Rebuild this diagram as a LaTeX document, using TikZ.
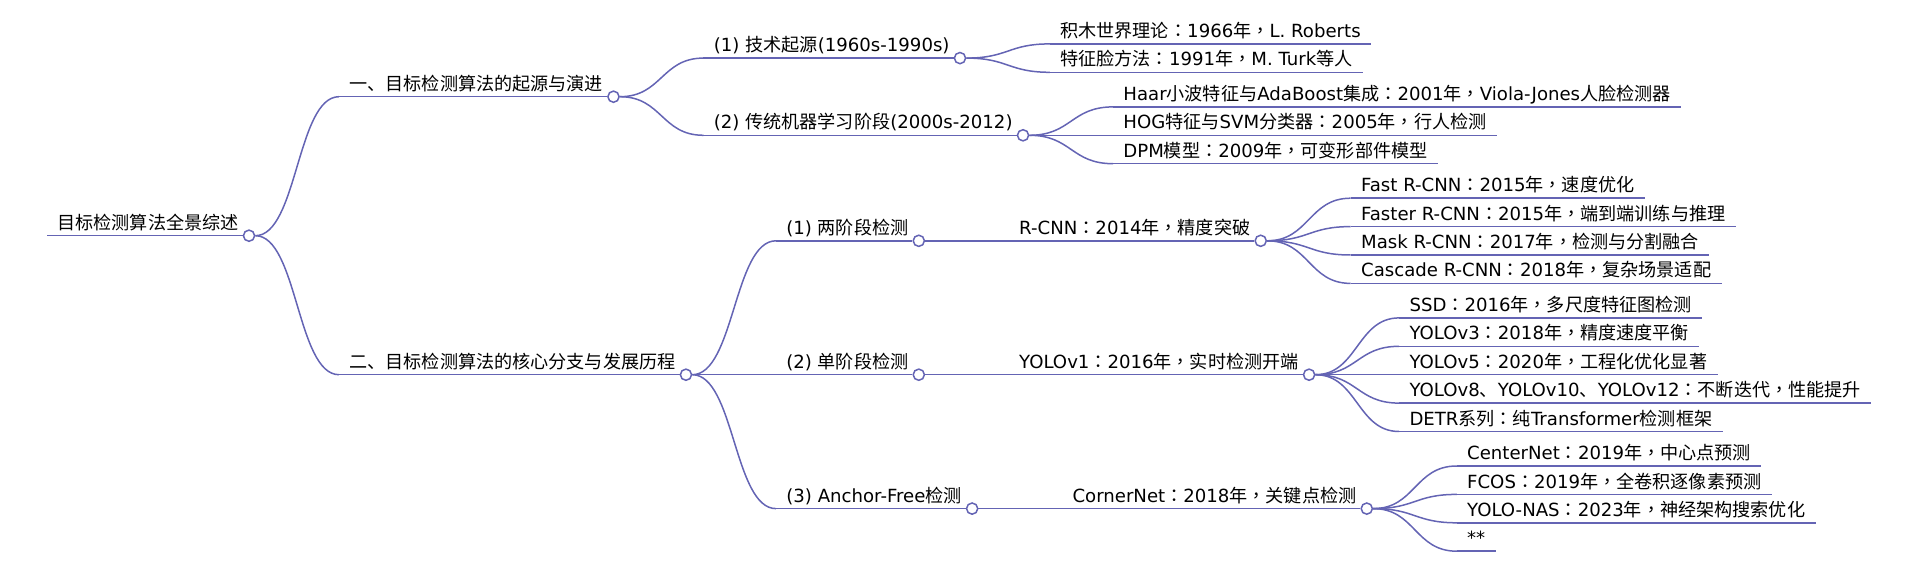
\documentclass[tikz,border=0pt]{standalone}
\usepackage{fontspec}
\setmainfont{DejaVu Sans}
\newfontfamily\latinfont{DejaVu Sans}
\newfontfamily\cjkfont{Noto Sans CJK SC}
\newfontfamily\punctfont{Noto Sans CJK TC}
\usetikzlibrary{positioning}
% han characters and full-width punctuation switch to the CJK fonts
\XeTeXinterchartokenstate=1
\newXeTeXintercharclass\hanclass
\newXeTeXintercharclass\punctclass
\newcount\hanchar
\hanchar="4E00
\loop
  \XeTeXcharclass\hanchar=\hanclass
  \ifnum\hanchar<"9FFF \advance\hanchar by 1
\repeat
\XeTeXcharclass"3001=\hanclass
\XeTeXcharclass"FF0C=\punctclass
\XeTeXcharclass"FF1A=\punctclass
\XeTeXinterchartoks 0 \hanclass={\cjkfont}
\XeTeXinterchartoks 4095 \hanclass={\cjkfont}
\XeTeXinterchartoks \hanclass 0={\latinfont}
\XeTeXinterchartoks \hanclass 4095={\latinfont}
\XeTeXinterchartoks 0 \punctclass={\punctfont}
\XeTeXinterchartoks 4095 \punctclass={\punctfont}
\XeTeXinterchartoks \hanclass \punctclass={\punctfont}
\XeTeXinterchartoks \punctclass 0={\latinfont}
\XeTeXinterchartoks \punctclass 4095={\latinfont}
\XeTeXinterchartoks \punctclass \hanclass={\cjkfont}
\definecolor{mmline}{RGB}{100,100,180}

\begin{document}
\begin{tikzpicture}[x=1pt, y=1pt,
  topic/.style={anchor=south west, inner xsep=5pt, inner ysep=3pt,
    text height=7pt, text depth=0pt, font=\fontsize{9.06}{11}\selectfont},
  dot/.style={circle, draw=mmline, fill=white, line width=0.75pt,
    minimum size=5.6pt, inner sep=0pt},
  link/.style={draw=mmline, line width=0.75pt}]
  \useasboundingbox (0,0) rectangle (960,-286);
  % root
  \node[topic] (root) at (23.5,-117.85) {目标检测算法全景综述};
  \node[dot] (rootc) at (root.south east) {};
  % main parts
  \node[topic, above right=69.5pt and 45pt of rootc.center] (orig) {一、目标检测算法的起源与演进};
  \node[dot] (origc) at (orig.south east) {};
  \node[topic, above right=-69.5pt and 45pt of rootc.center] (core) {二、目标检测算法的核心分支与发展历程};
  \node[dot] (corec) at (core.south east) {};
  % stages
  \node[topic, above right=19.3pt and 45pt of origc.center] (tech) {(1) 技术起源(1960s-1990s)};
  \node[dot] (techc) at (tech.south east) {};
  \node[topic, above right=-19.3pt and 45pt of origc.center] (trad) {(2) 传统机器学习阶段(2000s-2012)};
  \node[dot] (tradc) at (trad.south east) {};
  \node[topic, above right=66.95pt and 45pt of corec.center] (two) {(1) 两阶段检测};
  \node[dot] (twoc) at (two.south east) {};
  \node[topic, above right=0pt and 45pt of corec.center] (one) {(2) 单阶段检测};
  \node[dot] (onec) at (one.south east) {};
  \node[topic, above right=-66.95pt and 45pt of corec.center] (free) {(3) Anchor-Free检测};
  \node[dot] (freec) at (free.south east) {};
  % origins
  \node[topic, above right=7.1pt and 45pt of techc.center] (rob) {积木世界理论：1966年，L. Roberts};
  \node[topic, above right=-7.1pt and 45pt of techc.center] (turk) {特征脸方法：1991年，M. Turk等人};
  \node[topic, above right=14.2pt and 45pt of tradc.center] (haar) {Haar小波特征与AdaBoost集成：2001年，Viola-Jones人脸检测器};
  \node[topic, above right=0pt and 45pt of tradc.center] (hog) {HOG特征与SVM分类器：2005年，行人检测};
  \node[topic, above right=-14.2pt and 45pt of tradc.center] (dpm) {DPM模型：2009年，可变形部件模型};
  % first models of each branch
  \node[topic, above right=0pt and 45pt of twoc.center] (rcnn) {R-CNN：2014年，精度突破};
  \node[dot] (rcnnc) at (rcnn.south east) {};
  \node[topic, above right=0pt and 45pt of onec.center] (yolo) {YOLOv1：2016年，实时检测开端};
  \node[dot] (yoloc) at (yolo.south east) {};
  \node[topic, above right=0pt and 45pt of freec.center] (corner) {CornerNet：2018年，关键点检测};
  \node[dot] (cornerc) at (corner.south east) {};
  % two-stage
  \node[topic, above right=21.3pt and 45pt of rcnnc.center] (fast) {Fast R-CNN：2015年，速度优化};
  \node[topic, above right=7.1pt and 45pt of rcnnc.center] (faster) {Faster R-CNN：2015年，端到端训练与推理};
  \node[topic, above right=-7.1pt and 45pt of rcnnc.center] (mask) {Mask R-CNN：2017年，检测与分割融合};
  \node[topic, above right=-21.3pt and 45pt of rcnnc.center] (cascade) {Cascade R-CNN：2018年，复杂场景适配};
  % one-stage
  \node[topic, above right=28.4pt and 45pt of yoloc.center] (ssd) {SSD：2016年，多尺度特征图检测};
  \node[topic, above right=14.2pt and 45pt of yoloc.center] (v3) {YOLOv3：2018年，精度速度平衡};
  \node[topic, above right=0pt and 45pt of yoloc.center] (v5) {YOLOv5：2020年，工程化优化显著};
  \node[topic, above right=-14.2pt and 45pt of yoloc.center] (v8) {YOLOv8、YOLOv10、YOLOv12：不断迭代，性能提升};
  \node[topic, above right=-28.4pt and 45pt of yoloc.center] (detr) {DETR系列：纯Transformer检测框架};
  % anchor-free
  \node[topic, above right=21.3pt and 45pt of cornerc.center] (centernet) {CenterNet：2019年，中心点预测};
  \node[topic, above right=7.1pt and 45pt of cornerc.center] (fcos) {FCOS：2019年，全卷积逐像素预测};
  \node[topic, above right=-7.1pt and 45pt of cornerc.center] (nas) {YOLO-NAS：2023年，神经架构搜索优化};
  \node[topic, above right=-21.3pt and 45pt of cornerc.center] (star) {**};

  % underlines
  \draw[link] (root.south west) -- (rootc.west);
  \draw[link] (orig.south west) -- (origc.west);
  \draw[link] (core.south west) -- (corec.west);
  \draw[link] (tech.south west) -- (techc.west);
  \draw[link] (trad.south west) -- (tradc.west);
  \draw[link] (two.south west) -- (twoc.west);
  \draw[link] (one.south west) -- (onec.west);
  \draw[link] (free.south west) -- (freec.west);
  \draw[link] (rcnn.south west) -- (rcnnc.west);
  \draw[link] (yolo.south west) -- (yoloc.west);
  \draw[link] (corner.south west) -- (cornerc.west);
  \draw[link] (rob.south west) -- (rob.south east);
  \draw[link] (turk.south west) -- (turk.south east);
  \draw[link] (haar.south west) -- (haar.south east);
  \draw[link] (hog.south west) -- (hog.south east);
  \draw[link] (dpm.south west) -- (dpm.south east);
  \draw[link] (fast.south west) -- (fast.south east);
  \draw[link] (faster.south west) -- (faster.south east);
  \draw[link] (mask.south west) -- (mask.south east);
  \draw[link] (cascade.south west) -- (cascade.south east);
  \draw[link] (ssd.south west) -- (ssd.south east);
  \draw[link] (v3.south west) -- (v3.south east);
  \draw[link] (v5.south west) -- (v5.south east);
  \draw[link] (v8.south west) -- (v8.south east);
  \draw[link] (detr.south west) -- (detr.south east);
  \draw[link] (centernet.south west) -- (centernet.south east);
  \draw[link] (fcos.south west) -- (fcos.south east);
  \draw[link] (nas.south west) -- (nas.south east);
  \draw[link] (star.south west) -- (star.south east);

  % branches
  \draw[link] (rootc.east) .. controls +(21,0) and +(-21,0) .. (orig.south west);
  \draw[link] (rootc.east) .. controls +(21,0) and +(-21,0) .. (core.south west);
  \draw[link] (origc.east) .. controls +(21,0) and +(-21,0) .. (tech.south west);
  \draw[link] (origc.east) .. controls +(21,0) and +(-21,0) .. (trad.south west);
  \draw[link] (corec.east) .. controls +(21,0) and +(-21,0) .. (two.south west);
  \draw[link] (corec.east) .. controls +(21,0) and +(-21,0) .. (one.south west);
  \draw[link] (corec.east) .. controls +(21,0) and +(-21,0) .. (free.south west);
  \draw[link] (techc.east) .. controls +(21,0) and +(-21,0) .. (rob.south west);
  \draw[link] (techc.east) .. controls +(21,0) and +(-21,0) .. (turk.south west);
  \draw[link] (tradc.east) .. controls +(21,0) and +(-21,0) .. (haar.south west);
  \draw[link] (tradc.east) .. controls +(21,0) and +(-21,0) .. (hog.south west);
  \draw[link] (tradc.east) .. controls +(21,0) and +(-21,0) .. (dpm.south west);
  \draw[link] (twoc.east) -- (rcnn.south west);
  \draw[link] (onec.east) -- (yolo.south west);
  \draw[link] (freec.east) -- (corner.south west);
  \draw[link] (rcnnc.east) .. controls +(21,0) and +(-21,0) .. (fast.south west);
  \draw[link] (rcnnc.east) .. controls +(21,0) and +(-21,0) .. (faster.south west);
  \draw[link] (rcnnc.east) .. controls +(21,0) and +(-21,0) .. (mask.south west);
  \draw[link] (rcnnc.east) .. controls +(21,0) and +(-21,0) .. (cascade.south west);
  \draw[link] (yoloc.east) .. controls +(21,0) and +(-21,0) .. (ssd.south west);
  \draw[link] (yoloc.east) .. controls +(21,0) and +(-21,0) .. (v3.south west);
  \draw[link] (yoloc.east) -- (v5.south west);
  \draw[link] (yoloc.east) .. controls +(21,0) and +(-21,0) .. (v8.south west);
  \draw[link] (yoloc.east) .. controls +(21,0) and +(-21,0) .. (detr.south west);
  \draw[link] (cornerc.east) .. controls +(21,0) and +(-21,0) .. (centernet.south west);
  \draw[link] (cornerc.east) .. controls +(21,0) and +(-21,0) .. (fcos.south west);
  \draw[link] (cornerc.east) .. controls +(21,0) and +(-21,0) .. (nas.south west);
  \draw[link] (cornerc.east) .. controls +(21,0) and +(-21,0) .. (star.south west);
\end{tikzpicture}
\end{document}
